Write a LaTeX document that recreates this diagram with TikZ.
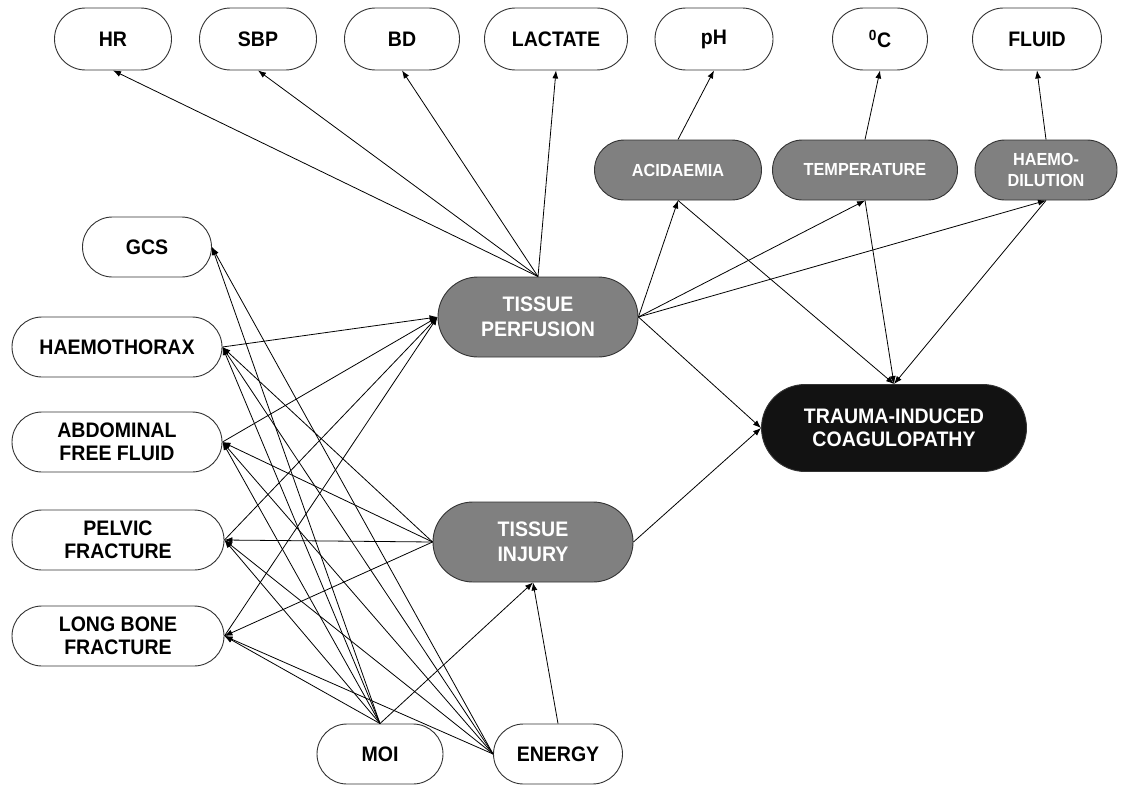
\documentclass[tikz,border=0pt]{standalone}
\usepackage{fontspec}
\setmainfont{Liberation Sans}[FakeStretch=0.93]
\usetikzlibrary{arrows.meta}
\tikzset{
  base/.style={draw=black!80, line width=0.9pt, rectangle, align=center, inner sep=0pt,
    font=\fontsize{21}{23}\selectfont\bfseries},
  wbox/.style={base, fill=white, minimum height=62pt, rounded corners=31pt},
  lbox/.style={base, fill=white, minimum height=60pt, rounded corners=30pt},
  gbox/.style={base, fill=black!50, text=white, minimum height=60pt, rounded corners=30pt,
    font=\fontsize{17.5}{21}\selectfont\bfseries},
  bigg/.style={base, fill=black!50, text=white, minimum height=80pt, minimum width=200pt, rounded corners=40pt,
    font=\fontsize{21}{25}\selectfont\bfseries},
  tic/.style={base, fill=black!93, text=white, minimum height=87pt, minimum width=265pt, rounded corners=43.5pt,
    font=\fontsize{21}{23}\selectfont\bfseries},
  arr/.style={-{Latex[length=8pt,width=6pt]}, line width=0.8pt, black}
}
\begin{document}
\begin{tikzpicture}[x=1pt,y=-1pt]
\useasboundingbox (0,0) rectangle (1131,784);
% top row
\node[wbox, minimum width=117pt] (hr) at (113,39) {HR};
\node[wbox, minimum width=117pt] (sbp) at (258,39) {SBP};
\node[wbox, minimum width=115pt] (bd) at (402,39) {BD};
\node[wbox, minimum width=143pt] (lac) at (556,39) {LACTATE};
\node[wbox, minimum width=118pt] (ph) at (714,39) {pH};
\node[wbox, minimum width=95pt] (degc) at (880,39) {\textsuperscript{0}C};
\node[wbox, minimum width=129pt] (fluid) at (1037,39) {FLUID};
% middle gray row
\node[gbox, minimum width=167pt] (aci) at (678,170) {ACIDAEMIA};
\node[gbox, minimum width=185pt] (temp) at (865,170) {TEMPERATURE};
\node[gbox, minimum width=142pt] (hd) at (1046,170) {HAEMO-\\DILUTION};
% left column
\node[lbox, minimum width=129pt] (gcs) at (147,247) {GCS};
\node[lbox, minimum width=210pt] (htx) at (117,347) {HAEMOTHORAX};
\node[lbox, minimum width=210pt] (abd) at (117,442) {ABDOMINAL\\FREE FLUID};
\node[lbox, minimum width=212pt] (pel) at (118,540) {PELVIC\\FRACTURE};
\node[lbox, minimum width=212pt] (lbf) at (118,636) {LONG BONE\\FRACTURE};
% centre
\node[bigg] (tp) at (538,317) {TISSUE\\PERFUSION};
\node[bigg] (ti) at (533,542) {TISSUE\\INJURY};
\node[tic] (tic) at (894,428) {TRAUMA-INDUCED\\COAGULOPATHY};
% bottom
\node[lbox, minimum width=126pt] (moi) at (380,754) {MOI};
\node[lbox, minimum width=129pt] (en) at (558,754) {ENERGY};
% edges
\foreach \t in {hr,sbp,bd,lac} \draw[arr] (tp.north) -- (\t.south);
\foreach \t in {aci,temp,hd} \draw[arr] (tp.east) -- (\t.south);
\draw[arr] (tp.east) -- (tic.west);
\draw[arr] (aci.north) -- (ph.south);
\draw[arr] (temp.north) -- (degc.south);
\draw[arr] (hd.north) -- (fluid.south);
\foreach \s in {aci,temp,hd} \draw[arr] (\s.south) -- (tic.north);
\draw[arr] (ti.east) -- (tic.west);
\foreach \s in {htx,abd,pel,lbf} \draw[arr] (\s.east) -- (tp.west);
\foreach \t in {htx,abd,pel,lbf} \draw[arr] (ti.west) -- (\t.east);
\foreach \t in {gcs,htx,abd,pel,lbf} \draw[arr] (moi.north) -- (\t.east);
\foreach \t in {gcs,htx,abd,pel,lbf} \draw[arr] (en.west) -- (\t.east);
\draw[arr] (moi.north) -- (ti.south);
\draw[arr] (en.north) -- (ti.south);
\end{tikzpicture}
\end{document}
